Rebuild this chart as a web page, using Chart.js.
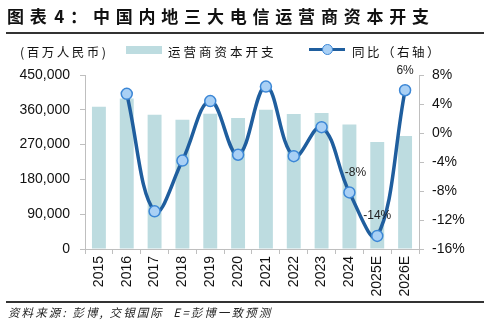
<!DOCTYPE html>
<html><head><meta charset="utf-8">
<script src="https://cdn.jsdelivr.net/npm/chart.js@4/dist/chart.umd.min.js"></script>
<style>
html,body{margin:0;padding:0;background:#fff;}
#wrap{position:relative;width:489px;height:325px;overflow:hidden;font-family:"Liberation Sans","Noto Sans CJK SC",sans-serif;}
#c{position:absolute;left:0;top:0;}
.t{position:absolute;white-space:nowrap;color:#111;}
#title{left:7px;top:4px;font-family:"Noto Sans CJK SC",sans-serif;font-weight:bold;font-size:17px;letter-spacing:5.8px;word-spacing:-8px;line-height:24px;}
.rule{position:absolute;left:6px;width:478px;background:#333;}
#unit{left:20px;top:42px;font-family:"Noto Sans CJK SC",sans-serif;font-size:12.5px;letter-spacing:2.5px;}
#sw1{position:absolute;left:126px;top:46px;width:36px;height:8px;background:#BDDCE0;}
#l1{left:168px;top:42px;font-family:"Noto Sans CJK SC",sans-serif;font-size:12.5px;letter-spacing:3px;}
#ln2{position:absolute;left:309px;top:48px;width:36px;height:3px;background:#1F5E9E;}
#pt2{position:absolute;left:322px;top:44px;width:9px;height:9px;border-radius:50%;background:#A9D0F5;border:1.5px solid #3C87D6;}
#l2{left:352px;top:42px;font-family:"Noto Sans CJK SC",sans-serif;font-size:12.5px;letter-spacing:2.5px;}
#src{left:8px;top:304px;font-family:"Noto Sans CJK SC",sans-serif;font-style:italic;font-size:11.5px;letter-spacing:2.1px;color:#222;}
</style></head>
<body><div id="wrap">
<canvas id="c" width="489" height="325"></canvas>
<div class="t" id="title">图表 4：中国内地三大电信运营商资本开支</div>
<div class="rule" style="top:32px;height:2px;"></div>
<div class="t" id="unit">(百万人民币)</div>
<div id="sw1"></div><div class="t" id="l1">运营商资本开支</div>
<div id="ln2"></div><div id="pt2"></div><div class="t" id="l2">同比（右轴）</div>
<div class="rule" style="top:301px;height:1.5px;"></div>
<div class="t" id="src">资料来源: 彭博, 交银国际&nbsp;&nbsp;E=彭博一致预测</div>
</div>
<script>
const categories = ["2015","2016","2017","2018","2019","2020","2021","2022","2023","2024","2025E","2026E"];
const capex = [368000,389000,347000,334000,350000,338500,360000,349000,351500,322000,277000,292000];
const yoy = [null,5.4,-10.8,-3.8,4.4,-3.0,6.4,-3.2,0.8,-8.2,-14.2,5.9];
const yoyLabels = [null,null,null,null,null,null,null,null,null,"-8%","-14%","6%"];
const leftTicks = [0,90000,180000,270000,360000,450000];
const rightTicks = [-16,-12,-8,-4,0,4,8];

const labelPlugin = {
  id:'yoyLabels',
  afterDatasetsDraw(chart){
    const meta = chart.getDatasetMeta(1);
    const ctx = chart.ctx;
    ctx.save();
    ctx.font = '12px "Liberation Sans", sans-serif';
    ctx.fillStyle = '#222';
    ctx.textAlign = 'center';
    ctx.textBaseline = 'middle';
    meta.data.forEach((p,i)=>{
      if(!yoyLabels[i]) return;
      const dx = i===9 ? 6 : 0;
      ctx.fillText(yoyLabels[i], p.x+dx, p.y-20);
    });
    ctx.restore();
  }
};

const tickFont = {family:'"Liberation Sans", sans-serif', size:14};
new Chart(document.getElementById('c'),{
  data:{
    labels:categories,
    datasets:[
      {type:'bar',label:'运营商资本开支',data:capex,yAxisID:'y',backgroundColor:'#BDDCE0',
       barPercentage:0.5,categoryPercentage:1,order:2},
      {type:'line',label:'同比（右轴）',data:yoy,yAxisID:'y1',borderColor:'#1F5E9E',borderWidth:3.5,
       tension:0.4,pointRadius:5.5,pointBackgroundColor:'#A9D0F5',
       pointBorderColor:'#3C87D6',pointBorderWidth:1.5,spanGaps:true,order:1}
    ]
  },
  options:{
    responsive:false,animation:false,
    layout:{padding:{top:75,left:0,right:0,bottom:0}},
    plugins:{legend:{display:false},tooltip:{enabled:false},title:{display:false}},
    scales:{
      x:{offset:true,
         grid:{display:true,drawOnChartArea:false,offset:true,color:'#BFBFBF',tickLength:5},
         border:{color:'#BFBFBF',width:1},
         ticks:{font:tickFont,color:'#111',minRotation:90,maxRotation:90,padding:2,autoSkip:false},
         afterFit(s){s.height=76;}
      },
      y:{position:'left',min:0,max:450000,
         afterBuildTicks(s){s.ticks=leftTicks.map(v=>({value:v}));},
         grid:{display:true,drawOnChartArea:false,color:'#BFBFBF',tickLength:5},
         border:{color:'#BFBFBF',width:1},
         ticks:{font:tickFont,color:'#111',padding:10,callback:v=>v.toLocaleString('en-US')},
         afterFit(s){s.width=85;}
      },
      y1:{position:'right',min:-16,max:8,
         afterBuildTicks(s){s.ticks=rightTicks.map(v=>({value:v}));},
         grid:{display:true,drawOnChartArea:false,color:'#BFBFBF',tickLength:5},
         border:{color:'#BFBFBF',width:1},
         ticks:{font:tickFont,color:'#111',padding:8,callback:v=>v+'%'},
         afterFit(s){s.width=70;}
      }
    }
  },
  plugins:[labelPlugin]
});
</script>
</body></html>
